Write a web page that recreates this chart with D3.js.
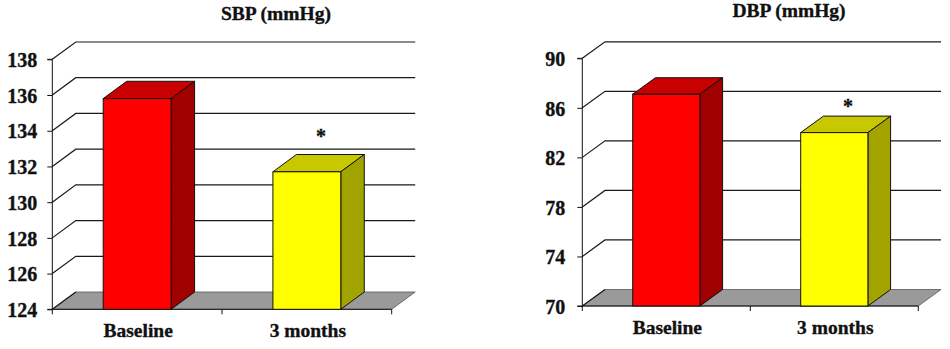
<!DOCTYPE html>
<html>
<head>
<meta charset="utf-8">
<script src="https://cdn.jsdelivr.net/npm/d3@7"></script>
<style>
  html, body { margin: 0; padding: 0; background: #fff; }
  svg { display: block; }
  svg text {
    font-family: "Liberation Serif", Tinos, "Times New Roman", serif !important;
    font-weight: bold; fill: #111; stroke: #111; stroke-width: 0.35px;
  }
</style>
</head>
<body>
<svg id="chart" width="950" height="349"></svg>
<script>
// ---- data ----
const categories = ["Baseline", "3 months"];
const sbpValues = [135.8, 131.7];
const dbpValues = [87.1, 84.0];
const sbpTicks = [124, 126, 128, 130, 132, 134, 136, 138];
const dbpTicks = [70, 74, 78, 82, 86, 90];
const sbpTitle = "SBP (mmHg)";
const dbpTitle = "DBP (mmHg)";
const significance = ["", "*"];   // marker drawn above each category's bar

// ---- styling ----
const frontColors = ["#FF0000", "#FFFF00"];
const topColors   = ["#C80000", "#C8C800"];
const sideColors  = ["#A00000", "#A3A300"];
const floorColor  = "#9A9A9A";

const svg = d3.select("#chart");

// Each panel: a pseudo-3D column chart with an oblique depth offset
function drawPanel(cfg) {
  const g = svg.append("g");
  const ticks = cfg.ticks;
  const y = d3.scaleLinear()
    .domain([d3.min(ticks), d3.max(ticks)])
    .range([cfg.yBot, cfg.yTop]);
  const x = d3.scaleBand()
    .domain(categories)
    .range([cfg.x0, cfg.x1])
    .paddingInner(0).paddingOuter(0);
  const dx = cfg.dx, dy = cfg.dy;
  const base = y.domain()[0];

  // floor
  g.append("path")
    .attr("d", d3.line()([
      [cfg.x0, y(base)], [cfg.x1, y(base)],
      [cfg.x1 + dx, y(base) + dy], [cfg.x0 + dx, y(base) + dy]
    ]) + "Z")
    .attr("fill", floorColor)
    .attr("stroke", "#555")
    .attr("stroke-width", 0.8);

  // back-wall gridlines with side-wall diagonals
  const grid = g.append("g").attr("stroke", "#1a1a1a").attr("stroke-width", 1.2).attr("fill", "none");
  ticks.filter(t => t !== base).forEach(t => {
    grid.append("path").attr("d", d3.line()([
      [cfg.x0, y(t)], [cfg.x0 + dx, y(t) + dy], [cfg.x1 + dx, y(t) + dy]
    ]));
  });
  grid.append("path").attr("d", d3.line()([
    [cfg.x0, y(base)], [cfg.x0 + dx, y(base) + dy]
  ]));

  // y axis
  const yAxis = d3.axisLeft(y).tickValues(ticks).tickSize(5).tickPadding(10);
  const ya = g.append("g").attr("transform", `translate(${cfg.x0},0)`).call(yAxis);
  ya.attr("font-family", null).attr("font-size", null);
  ya.select(".domain").attr("stroke", "#111").attr("d", `M-5,${cfg.yTop}H0V${cfg.yBot}H-5`);
  ya.selectAll(".tick line").attr("stroke", "#111");
  ya.selectAll(".tick text")
    .attr("x", -cfg.labelGap)
    .attr("dy", "0.36em")
    .style("font-size", "20px")
    .attr("fill", "#111");

  // x axis (front floor edge) with ticks at band boundaries
  const xa = g.append("g");
  xa.append("line")
    .attr("x1", cfg.x0).attr("x2", cfg.x1)
    .attr("y1", y(base)).attr("y2", y(base))
    .attr("stroke", "#111");
  const bounds = [cfg.x0].concat(categories.map(c => x(c) + x.bandwidth()));
  xa.selectAll("line.tk").data(bounds).join("line").attr("class", "tk")
    .attr("x1", d => d).attr("x2", d => d)
    .attr("y1", y(base)).attr("y2", y(base) + 5)
    .attr("stroke", "#111");
  xa.selectAll("text").data(categories).join("text")
    .attr("x", d => x(d) + x.bandwidth() / 2 + 1)
    .attr("y", y(base) + 28)
    .attr("text-anchor", "middle")
    .style("font-size", "19.5px")
    .text(d => d);

  // bars: front face, top face, side face
  const bw = x.bandwidth() * 0.4;
  const bars = g.append("g").selectAll("g").data(cfg.values).join("g");
  bars.each(function (v, i) {
    const c = categories[i];
    const left = x(c) + (x.bandwidth() - bw) / 2;
    const right = left + bw;
    const top = y(v), bot = y(base);
    const bg = d3.select(this);
    bg.append("path")
      .attr("d", d3.line()([[left, top], [left + dx, top + dy], [right + dx, top + dy], [right, top]]) + "Z")
      .attr("fill", topColors[i]).attr("stroke", "#111").attr("stroke-width", 1);
    bg.append("path")
      .attr("d", d3.line()([[right, top], [right + dx, top + dy], [right + dx, bot + dy], [right, bot]]) + "Z")
      .attr("fill", sideColors[i]).attr("stroke", "#111").attr("stroke-width", 1);
    bg.append("rect")
      .attr("x", left).attr("y", top)
      .attr("width", bw).attr("height", bot - top)
      .attr("fill", frontColors[i]).attr("stroke", "#111").attr("stroke-width", 1);
    if (significance[i]) {
      bg.append("text")
        .attr("x", (left + right) / 2 + dx * 0.6)
        .attr("y", top + dy - cfg.starGap + 9)
        .attr("text-anchor", "middle")
        .style("font-size", "20px")
        .text(significance[i]);
    }
  });

  // title
  g.append("text")
    .attr("x", cfg.titleX).attr("y", cfg.titleY)
    .attr("text-anchor", "middle")
    .style("font-size", "19.5px")
    .text(cfg.title);
}

drawPanel({
  title: sbpTitle, values: sbpValues, ticks: sbpTicks,
  x0: 52.3, x1: 391.7, yTop: 59.3, yBot: 309.3, dx: 23.5, dy: -17.3,
  labelGap: 15, titleX: 276, titleY: 20, starGap: 21
});
drawPanel({
  title: dbpTitle, values: dbpValues, ticks: dbpTicks,
  x0: 582.3, x1: 918.3, yTop: 58.3, yBot: 306, dx: 22.7, dy: -16.5,
  labelGap: 17, titleX: 789, titleY: 17, starGap: 12
});
</script>
</body>
</html>
